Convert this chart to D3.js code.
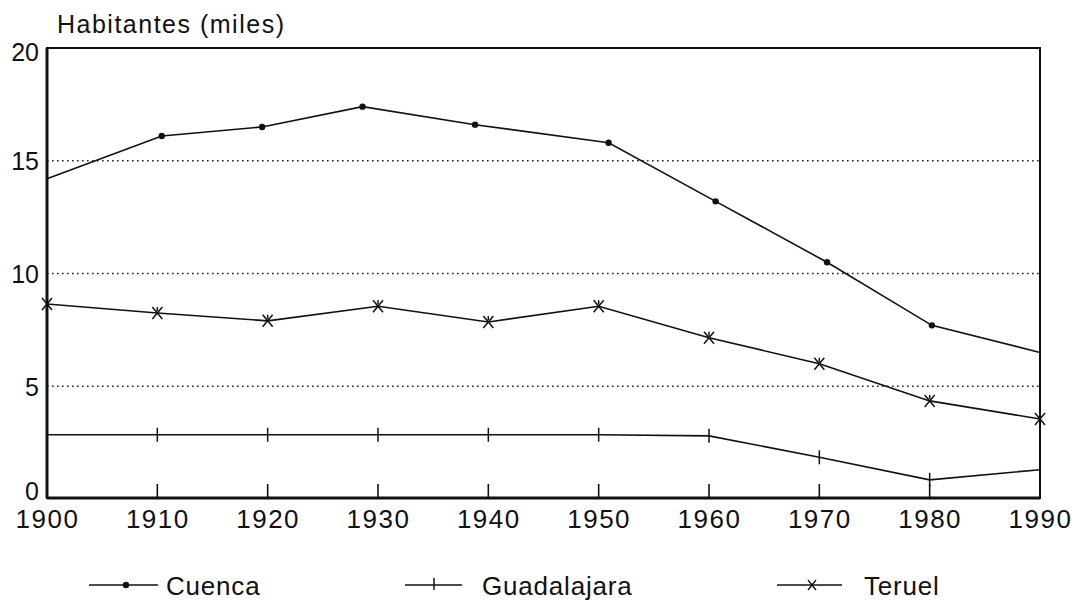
<!DOCTYPE html>
<html>
<head>
<meta charset="utf-8">
<script src="https://cdn.jsdelivr.net/npm/d3@7"></script>
<style>
  body { margin: 0; background: #fff; }
  svg { display: block; }
  text { font-family: "Liberation Sans", Arial, sans-serif; fill: #111; }
</style>
</head>
<body>
<script>

// data (thousands of inhabitants)
var years = [1900, 1910, 1920, 1930, 1940, 1950, 1960, 1970, 1980, 1990];
var cuencaYears = [1900, 1910.4, 1919.5, 1928.6, 1938.8, 1950.9, 1960.6, 1970.7, 1980.2, 1990];
var cuenca = [14.2, 16.1, 16.5, 17.4, 16.6, 15.8, 13.2, 10.5, 7.7, 6.5];
var guadalajara = [2.85, 2.85, 2.85, 2.85, 2.85, 2.85, 2.8, 1.85, 0.85, 1.3];
var teruel = [8.65, 8.25, 7.9, 8.55, 7.85, 8.55, 7.15, 6.0, 4.35, 3.55];
var yTicks = [0, 5, 10, 15, 20];
var gridTicks = [5, 10, 15];
var seriesNames = ["Cuenca", "Guadalajara", "Teruel"];
var yTitle = "Habitantes (miles)";

var W = 1081, H = 601;
var margin = {top: 48, right: 41, bottom: 103, left: 47},
    width = W - margin.left - margin.right,
    height = H - margin.top - margin.bottom;

var x = d3.scaleLinear().domain([1900, 1990]).range([0, width]);
var y = d3.scaleLinear().domain([0, 20]).range([height + 1, 0]);

var svg = d3.select("body").append("svg")
  .attr("width", W)
  .attr("height", H);

var g = svg.append("g")
  .attr("transform", "translate(" + margin.left + "," + margin.top + ")");

// dotted grid
g.selectAll(".grid")
  .data(gridTicks)
  .enter().append("line")
  .attr("class", "grid")
  .attr("x1", 0).attr("x2", width)
  .attr("y1", function(d) { return y(d); })
  .attr("y2", function(d) { return y(d); })
  .attr("stroke", "#222")
  .attr("stroke-width", 1.6)
  .attr("stroke-dasharray", "1.6,3.4");

// y labels
var yAxis = d3.axisLeft(y).tickValues(yTicks).tickSize(0).tickPadding(8);
g.append("g")
  .attr("class", "y axis")
  .call(yAxis)
  .call(function(s) {
    s.select(".domain").remove();
    s.selectAll("text").attr("font-size", 25).attr("dy", "0.36em")
      .attr("transform", function(d) { return d === 0 ? "translate(0,-9)" : (d === 20 ? "translate(0,3)" : null); })
      .style("font-family", "'Liberation Sans', Arial, sans-serif").attr("fill", "#111");
  });

// x labels + inner ticks
var xAxis = d3.axisBottom(x).tickValues(years).tickSize(0).tickPadding(12)
  .tickFormat(d3.format("d"));
g.append("g")
  .attr("class", "x axis")
  .attr("transform", "translate(0," + height + ")")
  .call(xAxis)
  .call(function(s) {
    s.select(".domain").remove();
    s.selectAll("text").attr("font-size", 26).attr("dy", "0.71em")
      .style("letter-spacing", "1.5px")
      .style("font-family", "'Liberation Sans', Arial, sans-serif").attr("fill", "#111");
  });

g.selectAll(".xtick")
  .data(years.slice(1, -1))
  .enter().append("line")
  .attr("class", "xtick")
  .attr("x1", function(d) { return x(d); })
  .attr("x2", function(d) { return x(d); })
  .attr("y1", height)
  .attr("y2", height - 14)
  .attr("stroke", "#111")
  .attr("stroke-width", 1.6);

// frame
g.append("rect")
  .attr("x", 0).attr("y", 0)
  .attr("width", width).attr("height", height)
  .attr("fill", "none")
  .attr("stroke", "#111")
  .attr("stroke-width", 2);
g.append("line")
  .attr("x1", 0).attr("x2", 0).attr("y1", 0).attr("y2", height)
  .attr("stroke", "#111").attr("stroke-width", 3);
g.append("line")
  .attr("x1", 0).attr("x2", width).attr("y1", height).attr("y2", height)
  .attr("stroke", "#111").attr("stroke-width", 3);

// title
svg.append("text")
  .attr("x", 57)
  .attr("y", 33)
  .attr("font-size", 25)
  .style("letter-spacing", "1.5px")
  .text(yTitle);

var line = d3.line()
  .x(function(d) { return x(d[0]); })
  .y(function(d) { return y(d[1]); });

var cuencaPts = d3.zip(cuencaYears, cuenca);
var guadaPts = d3.zip(years, guadalajara);
var teruelPts = d3.zip(years, teruel);

[cuencaPts, guadaPts, teruelPts].forEach(function(pts) {
  g.append("path")
    .datum(pts)
    .attr("d", line)
    .attr("fill", "none")
    .attr("stroke", "#111")
    .attr("stroke-width", 1.6);
});

// markers
function dot(sel) {
  sel.append("circle").attr("r", 3.2).attr("fill", "#111");
}
function bar(sel) {
  sel.append("line").attr("y1", -7).attr("y2", 7)
    .attr("stroke", "#111").attr("stroke-width", 1.5);
}
function star(sel) {
  sel.append("path")
    .attr("d", "M-5,-6L5,6M-5,6L5,-6M0,-6L0,-2")
    .attr("stroke", "#111").attr("stroke-width", 1.5).attr("fill", "none");
}

g.selectAll(".m-c").data(cuencaPts.slice(1, -1)).enter().append("g")
  .attr("class", "m-c")
  .attr("transform", function(d) { return "translate(" + x(d[0]) + "," + y(d[1]) + ")"; })
  .call(dot);

g.selectAll(".m-g").data(guadaPts.slice(1)).enter().append("g")
  .attr("class", "m-g")
  .attr("transform", function(d) { return "translate(" + x(d[0]) + "," + y(d[1]) + ")"; })
  .call(bar);

g.selectAll(".m-t").data(teruelPts).enter().append("g")
  .attr("class", "m-t")
  .attr("transform", function(d) { return "translate(" + x(d[0]) + "," + y(d[1]) + ")"; })
  .call(star);

// legend
var legendX = [89, 405, 777];
var lineLen = [69, 57, 65];
var markerAt = [37, 29, 35];
var textAt = [77, 77, 87];

seriesNames.forEach(function(name, i) {
  var lg = svg.append("g")
    .attr("transform", "translate(" + legendX[i] + ",585)");
  lg.append("line")
    .attr("x1", 0).attr("x2", lineLen[i])
    .attr("stroke", "#111").attr("stroke-width", 1.5);
  var m = lg.append("g")
    .attr("transform", "translate(" + markerAt[i] + ",0)");
  if (i === 0) {
    dot(m);
  } else if (i === 1) {
    m.append("line").attr("y1", -7).attr("y2", 5)
      .attr("stroke", "#111").attr("stroke-width", 1.5);
  } else {
    m.append("path").attr("d", "M-4,-5L4,5M-4,5L4,-5")
      .attr("stroke", "#111").attr("stroke-width", 1.3);
  }
  lg.append("text")
    .attr("x", textAt[i])
    .attr("y", 10)
    .attr("font-size", 26)
    .style("letter-spacing", "0.8px")
    .text(name);
});

</script>
</body>
</html>
